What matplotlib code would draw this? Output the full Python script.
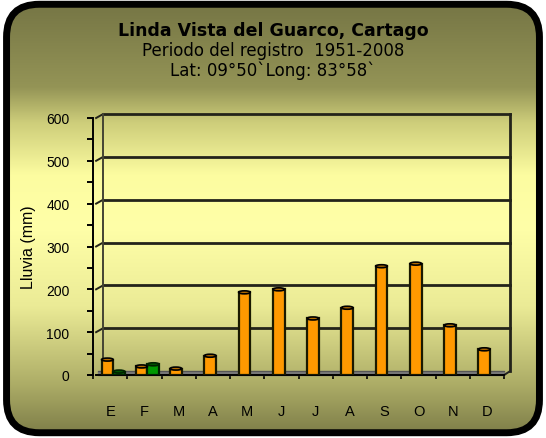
import numpy as np
import matplotlib
matplotlib.use("Agg")
import matplotlib.pyplot as plt
from matplotlib.patches import FancyBboxPatch, Ellipse
from matplotlib.transforms import offset_copy
from matplotlib.ticker import MultipleLocator

# Datos
meses = ["E", "F", "M", "A", "M", "J", "J", "A", "S", "O", "N", "D"]
lluvia = [36, 20, 15, 45, 193, 200, 132, 157, 254, 260, 116, 60]
serie2 = [8, 25, 0, 0, 0, 0, 0, 0, 0, 0, 0, 0]

titulo = "Linda Vista del Guarco, Cartago"
subtitulo1 = "Periodo del registro  1951-2008"
subtitulo2 = "Lat: 09°50`Long: 83°58`"

fig = plt.figure(figsize=(5.46, 4.39), dpi=100)
fig.patch.set_facecolor("white")

# Fondo con degradado y marco redondeado
bg = fig.add_axes([0, 0, 1, 1], zorder=-5)
bg.set_xlim(0, 1)
bg.set_ylim(0, 1)
bg.axis("off")
stops_y = [0.0, 0.12, 0.30, 0.48, 0.60, 0.72, 0.80, 1.0]
stops_c = [(122, 122, 70), (172, 172, 102), (235, 235, 150), (255, 255, 168),
           (252, 252, 160), (205, 205, 122), (148, 148, 86), (116, 116, 68)]
yy = np.linspace(0, 1, 400)
grad = np.zeros((400, 1, 3))
for k in range(3):
    grad[:, 0, k] = np.interp(yy, stops_y, [c[k] / 255 for c in stops_c])
marco = FancyBboxPatch((0.012, 0.012), 0.976, 0.976,
                       boxstyle="round,pad=0,rounding_size=0.06",
                       transform=bg.transAxes, facecolor="none",
                       edgecolor="black", linewidth=5, mutation_aspect=546 / 439)
bg.add_patch(marco)
im = bg.imshow(grad, extent=[0, 1, 0, 1], origin="lower", aspect="auto")
im.set_clip_path(marco)

fig.text(0.5, 0.929, titulo, ha="center", va="center", fontsize=12.5,
         fontweight="bold", family="DejaVu Sans")
fig.text(0.5, 0.884, subtitulo1, ha="center", va="center", fontsize=12,
         family="DejaVu Sans")
fig.text(0.5, 0.838, subtitulo2, ha="center", va="center", fontsize=12,
         family="DejaVu Sans")

# Area de la grafica
ax = fig.add_axes([93 / 546, (439 - 376) / 439, (510 - 93) / 546, (376 - 119) / 439])
ax.set_facecolor("none")
ax.set_xlim(-0.41, 11.67)
ax.set_ylim(0, 600)
x = np.arange(len(meses))

dx, dy = 7, 4
atras = offset_copy(ax.transData, fig=fig, x=dx, y=dy, units="dots")

# Lineas de la pared trasera (efecto 3D)
for v in range(100, 601, 100):
    ax.plot([-0.41, 11.67 - 0.2], [v, v], color="#23231a", lw=2,
            transform=atras, clip_on=False, zorder=1)
    ax.plot([-0.41, -0.41 + 0.2], [v, v + 9], color="#23231a", lw=1.4,
            clip_on=False, zorder=1)
ax.plot([-0.41, -0.41], [0, 600], color="#444433", lw=1.4,
        transform=atras, clip_on=False, zorder=1)
ax.plot([11.67 - 0.2, 11.67 - 0.2], [0, 600], color="#23231a", lw=2,
        transform=atras, clip_on=False, zorder=1)

# Piso gris
ax.fill_between([-0.35, 11.5], 0, 9, color="#777777", zorder=2, clip_on=False)
ax.plot([-0.35, 11.5], [9, 9], color="#555555", lw=0.8, zorder=2)
ax.plot([11.5, 11.67], [0, 9], color="#222222", lw=1.4, zorder=2, clip_on=False)

# Barras
w = 0.34
xo = x - 0.08
xg = x + 0.26
ax.bar(xo, lluvia, width=w, bottom=0, color="#FF9900", edgecolor="#1a1a00",
       linewidth=1.6, zorder=4)
for xi, v in zip(xo, lluvia):
    ax.add_patch(Ellipse((xi, v), w, 7, facecolor="#B36B00", edgecolor="black",
                         lw=1.2, zorder=5))
for xi, v in zip(xg, serie2):
    if v > 0:
        ax.bar(xi, v, width=w, color="#009900", edgecolor="#002200",
               linewidth=1.6, zorder=4)
        ax.add_patch(Ellipse((xi, v), w, 7, facecolor="#005500",
                             edgecolor="#002200", lw=1.2, zorder=5))

# Ejes
for s in ["top", "right"]:
    ax.spines[s].set_visible(False)
ax.spines["left"].set_linewidth(1.4)
ax.spines["bottom"].set_linewidth(1.4)
ax.spines["bottom"].set_bounds(-0.41, 11.5)
ax.yaxis.set_major_locator(MultipleLocator(100))
ax.yaxis.set_minor_locator(MultipleLocator(50))
ax.tick_params(axis="y", which="both", direction="out", length=4, width=1.4,
               pad=13, labelsize=10)
ax.set_xticks(x)
ax.set_xticklabels(meses, fontsize=10.5, family="Liberation Sans")
ax.set_xticks(np.arange(-0.5, 12, 1), minor=True)
ax.tick_params(axis="x", which="major", length=0, pad=21)
ax.tick_params(axis="x", which="minor", direction="out", length=3, width=1.2)
for t in ax.get_yticklabels():
    t.set_family("Liberation Sans")
ax.set_ylabel("Lluvia (mm)", fontsize=11.5, family="Liberation Sans", labelpad=7)

fig.savefig("out.png", dpi=100, facecolor="white")
